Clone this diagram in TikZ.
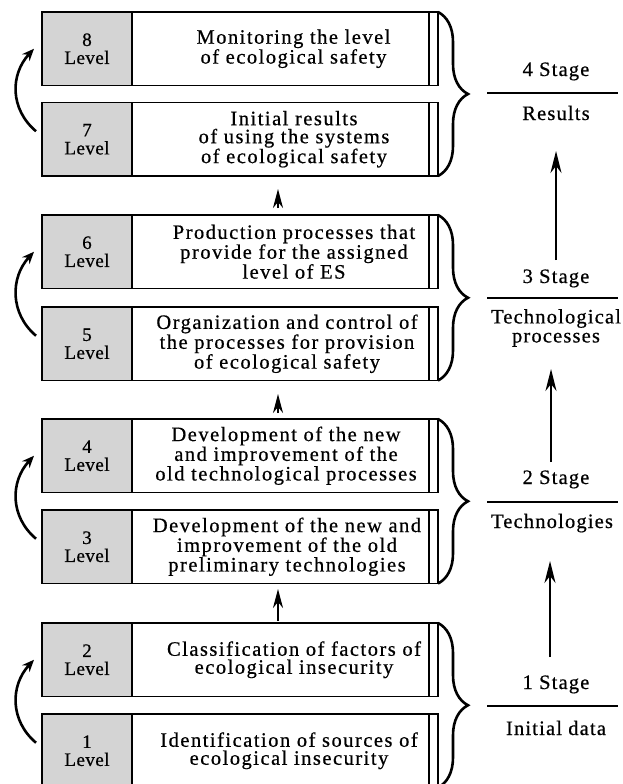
\documentclass[tikz,border=0pt]{standalone}
\usepackage{fontspec}
\setmainfont{Liberation Serif}[LetterSpace=7.3,FakeBold=0.6]
\usetikzlibrary{arrows.meta,decorations.pathreplacing,calc}
\definecolor{cellgray}{gray}{0.83}
\newcommand\txtfont{\fontsize{20.5pt}{18pt}\selectfont}
\newcommand\stgfont{\fontsize{20.5pt}{19pt}\selectfont\addfontfeatures{LetterSpace=5.7}}
\newcommand\lvlfont{\fontsize{19pt}{18pt}\selectfont\addfontfeatures{LetterSpace=2.5}}
\newcommand\lvbox[4]{%
  \node[whitecell] (w#1) at (280.5,{#2+36.75}) {};
  \node[stripcell] (s#1) at (433.5,{#2+36.75}) {};
  \node[graycell] (g#1) at (87,{#2+36.75}) {#1\\Level};
  \node[boxtext] (x#1) at (#4,{#2+36.75}) {#3};
}
\begin{document}
\begin{tikzpicture}[x=1pt,y=-1pt,
  cell/.style={draw,line width=1.8pt,inner sep=0pt,outer sep=0pt,minimum height=73.5pt},
  graycell/.style={cell,fill=cellgray,minimum width=90pt,align=center,font=\lvlfont},
  whitecell/.style={cell,fill=white,minimum width=297pt},
  stripcell/.style={cell,fill=white,minimum width=9pt},
  boxtext/.style={align=center,font=\txtfont,inner sep=0pt},
  stagetext/.style={align=center,font=\stgfont,inner sep=0pt,anchor=base},
  flow/.style={-{Stealth[length=19pt,width=10pt,inset=6pt]},line width=1.9pt},
  stageflow/.style={-{Stealth[length=22pt,width=11pt,inset=7pt]},line width=2.1pt},
  loopback/.style={-{Stealth[length=12pt,width=10pt]},line width=2.6pt},
  grpbrace/.style={decorate,decoration={brace,amplitude=30pt},line width=2.6pt},
  sepline/.style={line width=2pt}]
\useasboundingbox (0,0) rectangle (622,784);
\clip (0,0) rectangle (622,784);

\lvbox{8}{12}{Monitoring the level\\of ecological safety}{293.5}
\lvbox{7}{102.5}{Initial results\\of using the systems\\of ecological safety}{294}
\lvbox{6}{215}{Production processes that\\provide for the assigned\\level of ES}{294}
\lvbox{5}{307}{Organization and control of\\the processes for provision\\of ecological safety}{287}
\lvbox{4}{419}{Development of the new\\and improvement of the\\old technological processes}{286}
\lvbox{3}{510}{Development of the new and\\improvement of the old\\preliminary technologies}{287}
\lvbox{2}{623}{Classification of factors of\\ecological insecurity}{294}
\lvbox{1}{714}{Identification of sources of\\ecological insecurity}{289}

% braces
\draw[grpbrace] (s8.north east) -- (s7.south east);
\draw[grpbrace] (s6.north east) -- (s5.south east);
\draw[grpbrace] (s4.north east) -- (s3.south east);
\draw[grpbrace] (s2.north east) -- (s1.south east);

% arrows between groups
\coordinate (m76a) at (278,208); \coordinate (m76b) at (278,189);
\coordinate (m54a) at (278,413); \coordinate (m54b) at (278,394);
\coordinate (m32a) at (278,621); \coordinate (m32b) at (278,589);
\draw[flow] (m76a) -- (m76b);
\draw[flow] (m54a) -- (m54b);
\draw[flow] (m32a) -- (m32b);

% loop arrows on the left
\foreach \lo/\up in {7/8,5/6,3/4,1/2}{
  \coordinate (ls\lo) at ($(g\lo.west)+(-6,-8)$);
  \coordinate (le\up) at ($(g\up.west)+(-8,0)$);
  \draw[loopback] (ls\lo) .. controls +(-26,-22) and +(-24,26) .. (le\up);
}

% stages
\node[stagetext] (st4) at (556,76) {4 Stage};
\node[stagetext] (sn4) at (556,120) {Results};
\node[stagetext] (st3) at (556,283) {3 Stage};
\node[stagetext,anchor=center] (sn3) at (556,328) {Technological\\processes};
\node[stagetext] (st2) at (556,484) {2 Stage};
\node[stagetext] (sn2) at (552,528) {Technologies};
\node[stagetext] (st1) at (556,689) {1 Stage};
\node[stagetext] (sn1) at (556,735) {Initial data};

\coordinate (l4a) at (487,93);  \coordinate (l4b) at (618,93);
\coordinate (l3a) at (487,298); \coordinate (l3b) at (618,298);
\coordinate (l2a) at (487,502); \coordinate (l2b) at (618,502);
\coordinate (l1a) at (487,706); \coordinate (l1b) at (618,706);
\draw[sepline] (l4a) -- (l4b);
\draw[sepline] (l3a) -- (l3b);
\draw[sepline] (l2a) -- (l2b);
\draw[sepline] (l1a) -- (l1b);

\coordinate (r34a) at (556,260); \coordinate (r34b) at (556,151);
\coordinate (r23a) at (551,462); \coordinate (r23b) at (551,369);
\coordinate (r12a) at (550,657); \coordinate (r12b) at (550,561);
\draw[stageflow] (r34a) -- (r34b);
\draw[stageflow] (r23a) -- (r23b);
\draw[stageflow] (r12a) -- (r12b);
\end{tikzpicture}
\end{document}
